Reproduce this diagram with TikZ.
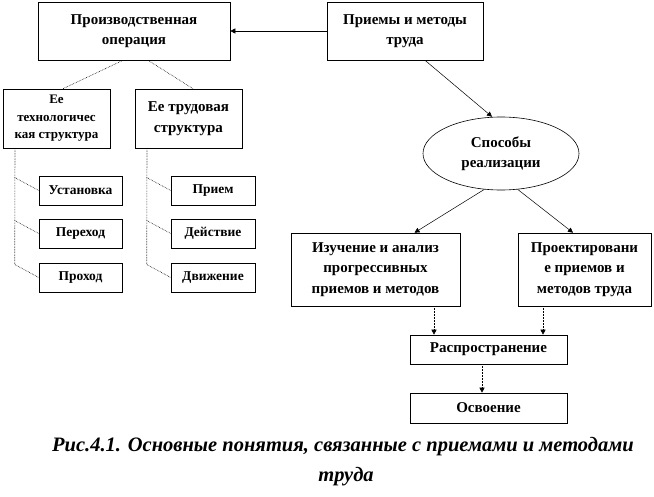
\documentclass[tikz,border=0pt]{standalone}
\usepackage{fontspec}
\setmainfont{Liberation Serif}
\usetikzlibrary{arrows.meta,shapes.geometric}
\tikzset{
  box/.style={draw,line width=0.6pt,fill=white,align=center,inner sep=2pt,
              font=\fontsize{15}{20.5}\selectfont\bfseries},
  smallbox/.style={box,minimum width=83pt,minimum height=29pt,
                   font=\fontsize{13.5}{15}\selectfont\bfseries},
  oval/.style={box,ellipse,inner sep=0pt},
  arr/.style={-{Triangle[length=5pt,width=5pt]},line width=0.5pt},
  darr/.style={arr,densely dotted},
  tree/.style={densely dotted,line width=0.6pt},
  caption/.style={font=\fontsize{20.5}{24}\selectfont\bfseries\itshape},
}
\begin{document}
\begin{tikzpicture}[x=1pt,y=-1pt]
  \useasboundingbox (0,0) rectangle (654,497);
  % upper row
  \node[box,minimum width=192pt,minimum height=58pt] (prod) at (134,31)
    {Производственная\\операция};
  \node[box,minimum width=156pt,minimum height=58pt] (meth) at (405,31)
    {Приемы и методы\\труда};
  \draw[arr] (meth.west) -- (prod.east);

  % the two structures
  \node[box,minimum width=107pt,minimum height=59pt,
        font=\fontsize{13}{17.5}\selectfont\bfseries] (tech) at (56.5,118.5)
    {Ее\\технологичес\\кая структура};
  \node[box,minimum width=107pt,minimum height=59pt] (labr) at (188.5,118.5)
    {Ее трудовая\\структура};
  \draw[tree] ([xshift=-11pt]prod.south) -- ([xshift=6.5pt]tech.north);
  \draw[tree] ([xshift=14pt]prod.south) -- ([xshift=4.5pt]labr.north);

  \node[smallbox] (inst) at (80.5,190.5) {Установка};
  \node[smallbox] (pass) at (80.5,233.5) {Переход};
  \node[smallbox] (run)  at (80.5,277.5) {Проход};
  \node[smallbox,minimum width=84pt] (meth1) at (213,190.5) {Прием};
  \node[smallbox,minimum width=84pt] (act)   at (213,233.5) {Действие};
  \node[smallbox,minimum width=84pt] (move)  at (213,277.5) {Движение};

  \draw[tree] ([xshift=-41.5pt]tech.south) -- ([shift={(-24,-13)}]run.west) -- (run.west);
  \draw[tree] ([xshift=-41.5pt]labr.south) -- ([shift={(-24,-13)}]move.west) -- (move.west);
  \foreach \b in {inst,pass,meth1,act}
    \draw[tree] ([shift={(-24,-13)}]\b.west) -- (\b.west);

  % right branch
  \node[oval,minimum width=156pt,minimum height=73pt] (ways) at (501,153.5)
    {Способы\\реализации};
  \draw[arr] ([xshift=20pt]meth.south) -- ([xshift=-9pt]ways.north);

  \node[box,minimum width=169pt,minimum height=73pt] (study) at (375.5,269.5)
    {Изучение и анализ\\прогрессивных\\приемов и методов};
  \node[box,minimum width=133pt,minimum height=73pt] (design) at (584.5,269.5)
    {Проектировани\\е приемов и\\методов труда};
  \draw[arr] (ways.245) -- ([xshift=39pt]study.north);
  \draw[arr] (ways.295) -- ([xshift=-11.5pt]design.north);

  \node[box,minimum width=157pt,minimum height=29pt] (spread) at (488.5,349.5)
    {Распространение};
  \node[box,minimum width=157pt,minimum height=30pt] (master) at (488.5,408)
    {Освоение};
  \draw[darr] ([xshift=58.5pt]study.south) -- ([xshift=58.5pt]study.south |- spread.north);
  \draw[darr] ([xshift=-41.5pt]design.south) -- ([xshift=-41.5pt]design.south |- spread.north);
  \draw[darr] ([xshift=-6.5pt]spread.south) -- ([xshift=-6.5pt]spread.south |- master.north);

  % caption
  \node[caption] (cap1) at (343,447) {Рис.4.1. Основные понятия, связанные с приемами и методами};
  \node[caption] (cap2) at (346,477) {труда};
\end{tikzpicture}
\end{document}
